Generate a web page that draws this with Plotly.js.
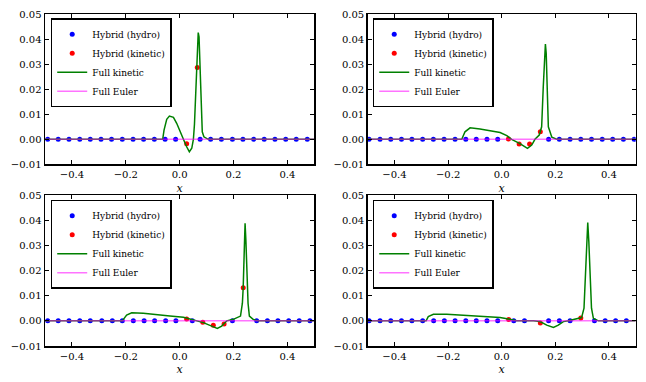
<!DOCTYPE html>
<html>
<head>
<meta charset="utf-8">
<script src="https://cdn.plot.ly/plotly-3.0.1.min.js"></script>
<style>
  html, body { margin: 0; padding: 0; background: #fff; }
  #fig { width: 646px; height: 382px; }
</style>
</head>
<body>
<div id="fig"></div>
<script>
// panel 1 (top left)
var hydroX1 = [-0.490, -0.451, -0.411, -0.371, -0.332, -0.292, -0.253, -0.213, -0.173, -0.134, -0.094, -0.054, -0.015,
  0.076, 0.115, 0.155, 0.196, 0.235, 0.275, 0.314, 0.354, 0.394, 0.433, 0.474];
var hydroY1 = [0, 0, 0, 0, 0, 0, 0, 0, 0, 0, 0, 0, 0, 0, 0, 0, 0, 0, 0, 0, 0, 0, 0, 0];
var kinX1 = [0.026, 0.0655];
var kinY1 = [-0.0018, 0.0287];
var fullX1 = [-0.5, -0.063, -0.058, -0.048, -0.038, -0.023, -0.011, 0.001, 0.014, 0.026, 0.036, 0.045, 0.051,
  0.055, 0.059, 0.063, 0.066, 0.069, 0.072, 0.075, 0.078, 0.081, 0.084, 0.090, 0.100, 0.106, 0.5];
var fullY1 = [0, 0, 0.0037, 0.0080, 0.0093, 0.0088, 0.0064, 0.0030, 0, -0.0030, -0.0050, -0.0036, 0,
  0.006, 0.016, 0.030, 0.039, 0.0427, 0.041, 0.031, 0.020, 0.008, 0.003, 0.001, 0.0002, 0, 0];

// panel 2 (top right)
var hydroX2 = [-0.495, -0.454, -0.414, -0.374, -0.335, -0.295, -0.255, -0.215, -0.174, -0.134, -0.095, -0.055, -0.015,
  0.175, 0.215, 0.255, 0.295, 0.335, 0.375, 0.414, 0.454, 0.494];
var hydroY2 = [0, 0, 0, 0, 0, 0, 0, 0, 0, 0, 0, 0, 0, 0, 0, 0, 0, 0, 0, 0, 0, 0];
var kinX2 = [0.025, 0.065, 0.104, 0.144];
var kinY2 = [0.0001, -0.0019, -0.0019, 0.0030];
var fullX2 = [-0.5, -0.149, -0.137, -0.118, -0.081, -0.044, -0.006, 0.019, 0.037, 0.068, 0.096, 0.112, 0.124, 0.140,
  0.149, 0.155, 0.160, 0.163, 0.166, 0.170, 0.174, 0.187, 0.205, 0.5];
var fullY2 = [0, 0, 0.0030, 0.0046, 0.0041, 0.0035, 0.0027, 0.0015, 0, -0.0017, -0.0036, -0.0023, 0, 0.0017,
  0.005, 0.021, 0.0344, 0.0381, 0.0344, 0.021, 0.005, 0.0008, 0, 0];

// panel 3 (bottom left)
var hydroX3 = [-0.490, -0.451, -0.411, -0.371, -0.332, -0.289, -0.250, -0.213, -0.172, -0.132, -0.093, -0.052, -0.014,
  0.047, 0.196, 0.286, 0.326, 0.365, 0.405, 0.444, 0.484];
var hydroY3 = [0, 0, 0, 0, 0, 0, 0, 0, 0, 0, 0, 0, 0, 0, 0, 0, 0, 0, 0, 0, 0];
var kinX3 = [0.026, 0.086, 0.125, 0.165, 0.236];
var kinY3 = [0.0007, -0.0006, -0.0017, -0.0013, 0.0132];
var fullX3 = [-0.5, -0.213, -0.197, -0.178, -0.135, -0.085, -0.036, 0.014, 0.038, 0.057, 0.088, 0.119, 0.140, 0.156,
  0.175, 0.199, 0.222, 0.226, 0.233, 0.236, 0.240, 0.243, 0.246, 0.250, 0.254, 0.259, 0.274, 0.292, 0.5];
var fullY3 = [0, 0, 0.0023, 0.0032, 0.0030, 0.0023, 0.0019, 0.0014, 0.0007, 0, -0.0007, -0.0021, -0.0030, -0.0021,
  0, 0.0006, 0.0016, 0.0019, 0.007, 0.0132, 0.028, 0.0388, 0.032, 0.019, 0.007, 0.0019, 0.0005, 0, 0];

// panel 4 (bottom right)
var hydroX4 = [-0.495, -0.454, -0.414, -0.374, -0.335, -0.295, -0.254, -0.214, -0.174, -0.134, -0.095, -0.055, -0.015,
  0.045, 0.085, 0.175, 0.215, 0.255, 0.346, 0.386, 0.425, 0.465];
var hydroY4 = [0, 0, 0, 0, 0, 0, 0, 0, 0, 0, 0, 0, 0, 0, 0, 0, 0, 0, 0, 0, 0, 0];
var kinX4 = [0.026, 0.144, 0.295];
var kinY4 = [0.0005, -0.0009, 0.0011];
var fullX4 = [-0.5, -0.282, -0.274, -0.255, -0.205, -0.155, -0.106, -0.056, -0.006, 0.025, 0.056, 0.118, 0.143, 0.168,
  0.193, 0.211, 0.230, 0.249, 0.280, 0.298, 0.307, 0.313, 0.317, 0.321, 0.325, 0.330, 0.335, 0.342, 0.361, 0.5];
var fullY4 = [0, 0, 0.0017, 0.0026, 0.0026, 0.0023, 0.0021, 0.0017, 0.0013, 0.0007, 0, 0, -0.0003, -0.0017,
  -0.0026, -0.0017, -0.0003, 0, 0.0007, 0.0013, 0.005, 0.021, 0.0315, 0.0391, 0.0315, 0.0169, 0.005, 0.001, 0, 0];

// full Euler solution, same in every panel
var eulerX = [-0.5, 0.5];
var eulerY = [0, 0];

var panels = [
  [hydroX1, hydroY1, kinX1, kinY1, fullX1, fullY1],
  [hydroX2, hydroY2, kinX2, kinY2, fullX2, fullY2],
  [hydroX3, hydroY3, kinX3, kinY3, fullX3, fullY3],
  [hydroX4, hydroY4, kinX4, kinY4, fullX4, fullY4]
];

var FONT = 'DejaVu Serif';
var data = [];
panels.forEach(function(p, i) {
  var n = i + 1;
  var xa = 'x' + (n === 1 ? '' : n), ya = 'y' + (n === 1 ? '' : n);
  var lg = n === 1 ? 'legend' : 'legend' + n;
  data.push({x: p[0], y: p[1], xaxis: xa, yaxis: ya, legend: lg, type: 'scatter', mode: 'markers',
    name: 'Hybrid (hydro)', marker: {color: '#0000ff', size: 5}});
  data.push({x: p[2], y: p[3], xaxis: xa, yaxis: ya, legend: lg, type: 'scatter', mode: 'markers',
    name: 'Hybrid (kinetic)', marker: {color: '#ff0000', size: 5}});
  data.push({x: p[4], y: p[5], xaxis: xa, yaxis: ya, legend: lg, type: 'scatter', mode: 'lines',
    name: 'Full kinetic', line: {color: '#008000', width: 1.5}});
  data.push({x: eulerX, y: eulerY, xaxis: xa, yaxis: ya, legend: lg, type: 'scatter', mode: 'lines',
    name: 'Full Euler', opacity: 0.55, line: {color: '#ff00ff', width: 1.5}});
});

function xaxis(dom, anchor) {
  return {
    domain: dom, anchor: anchor, range: [-0.5, 0.5], tick0: 0, dtick: 0.2, tickformat: '.1f',
    ticks: 'inside', ticklen: 4, tickwidth: 1, tickcolor: '#000',
    tickfont: {family: FONT, size: 10},
    showline: true, linecolor: '#000', linewidth: 1.5, mirror: 'allticks',
    showgrid: false, zeroline: false, fixedrange: true,
    title: {text: '<i>x</i>', font: {family: FONT, size: 11}, standoff: 5}
  };
}
function yaxis(dom, anchor) {
  return {
    domain: dom, anchor: anchor, range: [-0.01, 0.05], tick0: 0, dtick: 0.01, tickformat: '.2f',
    ticks: 'inside', ticklen: 4, tickwidth: 1, tickcolor: '#000',
    tickfont: {family: FONT, size: 10},
    showline: true, linecolor: '#000', linewidth: 1.5, mirror: 'allticks',
    showgrid: false, zeroline: false, fixedrange: true
  };
}
function legend(x, y) {
  return {
    x: x, y: y, xanchor: 'left', yanchor: 'top', bgcolor: '#fff',
    bordercolor: '#000', borderwidth: 1.5, itemwidth: 30, tracegroupgap: 0,
    font: {family: FONT, size: 9, color: '#000'}
  };
}

var left = [0.0697, 0.4865], right = [0.5692, 0.9841];
var top_ = [0.5699, 0.9626], bottom = [0.0942, 0.4895];

var layout = {
  width: 646, height: 382, autosize: false,
  margin: {l: 0, r: 0, t: 0, b: 0},
  paper_bgcolor: '#fff', plot_bgcolor: '#fff',
  font: {family: FONT, size: 10, color: '#000'},
  showlegend: true,
  xaxis: xaxis(left, 'y'), yaxis: yaxis(top_, 'x'),
  xaxis2: xaxis(right, 'y2'), yaxis2: yaxis(top_, 'x2'),
  xaxis3: xaxis(left, 'y3'), yaxis3: yaxis(bottom, 'x3'),
  xaxis4: xaxis(right, 'y4'), yaxis4: yaxis(bottom, 'x4'),
  legend: legend(0.0785, 0.952),
  legend2: legend(0.577, 0.952),
  legend3: legend(0.0785, 0.4773),
  legend4: legend(0.577, 0.4773)
};

Plotly.newPlot('fig', data, layout, {displayModeBar: false, staticPlot: true});
</script>
</body>
</html>
